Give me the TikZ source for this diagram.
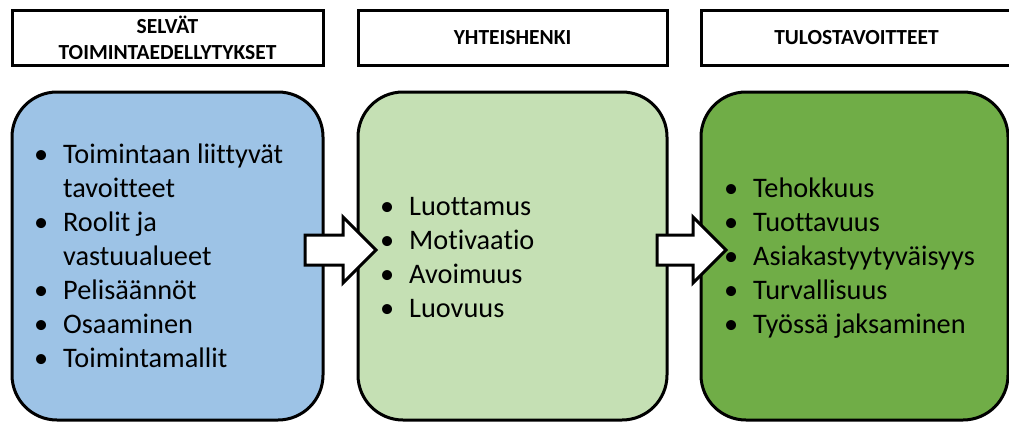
\documentclass[tikz,border=0pt]{standalone}
\usepackage{fontspec}
\setmainfont[Ligatures=NoCommon]{Carlito}
\definecolor{boxblue}{HTML}{9DC3E6}
\definecolor{boxlight}{HTML}{C5E0B4}
\definecolor{boxgreen}{HTML}{70AD47}
\newcommand{\bitem}[1]{\llap{\textbullet\hspace{15pt}}#1}
\begin{document}
\begin{tikzpicture}[x=1pt,y=-1pt,
  header/.style={draw, line width=3pt, fill=white, minimum height=55pt,
    inner sep=0pt, align=center, font=\bfseries\fontsize{21.5}{26}\selectfont},
  panel/.style={draw, line width=3pt, rounded corners=45pt,
    minimum height=328pt, inner sep=0pt},
  item/.style={anchor=base west, inner sep=0pt, font=\fontsize{28.3}{34}\selectfont},
  flow/.style={draw, line width=3pt, fill=white}
]
\useasboundingbox (0,0) rectangle (1009,423);

% column headings
\node[header, minimum width=311pt] (h1) at (167.5,37.5) {SELVÄT\\TOIMINTAEDELLYTYKSET};
\node[header, minimum width=309pt] (h2) at (512.5,37.5) {YHTEISHENKI};
\node[header, minimum width=311pt] (h3) at (856.5,37.5) {TULOSTAVOITTEET};

% rounded panels
\node[panel, fill=boxblue,  minimum width=311pt] (p1) at (167.5,256) {};
\node[panel, fill=boxlight, minimum width=309pt] (p2) at (512.5,256) {};
\node[panel, fill=boxgreen, minimum width=307pt] (p3) at (854.5,256) {};

% block arrows between the panels
\draw[flow] (305,235) -- (343,235) -- (343,217) -- (376,250) -- (343,283)
  -- (343,265) -- (305,265) -- cycle;
\draw[flow] (657,235) -- (693,235) -- (693,217) -- (726,250) -- (693,283)
  -- (693,265) -- (657,265) -- cycle;

% first panel
\node[item] (p1a) at (63,163) {\bitem{Toimintaan liittyvät}};
\node[item] (p1b) at (63,197) {tavoitteet};
\node[item] (p1c) at (63,231) {\bitem{Roolit ja}};
\node[item] (p1d) at (63,265) {vastuualueet};
\node[item] (p1e) at (63,299) {\bitem{Pelisäännöt}};
\node[item] (p1f) at (63,333) {\bitem{Osaaminen}};
\node[item] (p1g) at (63,367) {\bitem{Toimintamallit}};

% second panel
\node[item] (p2a) at (409,215) {\bitem{Luottamus}};
\node[item] (p2b) at (409,249) {\bitem{Motivaatio}};
\node[item] (p2c) at (409,283) {\bitem{Avoimuus}};
\node[item] (p2d) at (409,317) {\bitem{Luovuus}};

% third panel
\node[item] (p3a) at (753,197) {\bitem{Tehokkuus}};
\node[item] (p3b) at (753,231) {\bitem{Tuottavuus}};
\node[item] (p3c) at (753,265) {\bitem{Asiakastyytyväisyys}};
\node[item] (p3d) at (753,299) {\bitem{Turvallisuus}};
\node[item] (p3e) at (753,333) {\bitem{Työssä jaksaminen}};
\end{tikzpicture}
\end{document}
